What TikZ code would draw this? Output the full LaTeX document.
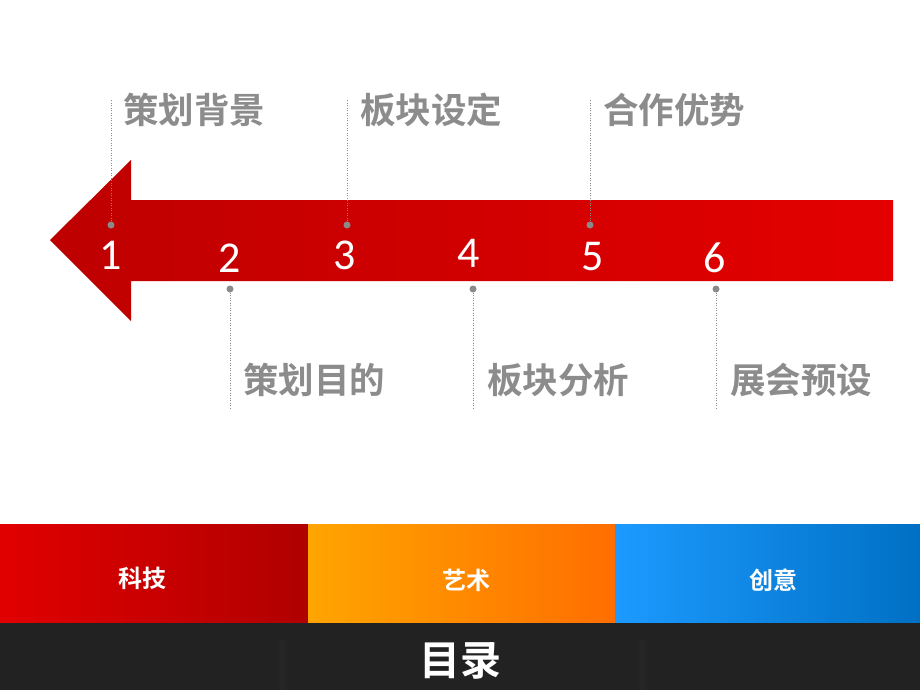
\documentclass[tikz,border=0pt]{standalone}
\usepackage{fontspec}
\setmainfont{Carlito}
\newfontfamily\cjk{Noto Sans CJK SC Bold}
\usetikzlibrary{shapes.geometric}
\definecolor{topicgray}{HTML}{8C8C8C}
\definecolor{dotgray}{HTML}{8A8A8A}
\definecolor{darkbar}{HTML}{222222}
\begin{document}
\begin{tikzpicture}[x=1pt,y=-1pt,
  topic/.style={font=\cjk\fontsize{35.5}{35.5}\selectfont, text=topicgray, anchor=west, inner sep=0pt},
  num/.style={font=\fontsize{44}{44}\selectfont, text=white, inner sep=0pt},
  dotmark/.style={circle, fill=dotgray, minimum size=7pt, inner sep=0pt},
  leader/.style={draw=dotgray, line width=0.8pt, dash pattern=on 1pt off 1.5pt},
  bandlabel/.style={font=\cjk\fontsize{24}{24}\selectfont, text=white, inner sep=0pt}]
\useasboundingbox (0,0) rectangle (920,690);
\fill[white] (0,0) rectangle (920,690);
% arrow
\shade[left color={rgb,255:red,190;green,0;blue,0}, right color={rgb,255:red,228;green,0;blue,0}]
  (50,240) -- (131,160) -- (131,200) -- (893,200) -- (893,281) -- (131,281) -- (131,321) -- cycle;
% numbers
\node[num] (n1) at (111,255) {1};
\node[num] (n2) at (230,258) {2};
\node[num] (n3) at (345,255) {3};
\node[num] (n4) at (469,253) {4};
\node[num] (n5) at (593,257) {5};
\node[num] (n6) at (715,258) {6};
% dots and leaders
\node[dotmark] (d1) at (111,225) {};
\node[dotmark] (d2) at (230,289) {};
\node[dotmark] (d3) at (347,225) {};
\node[dotmark] (d4) at (473,289) {};
\node[dotmark] (d5) at (590,225) {};
\node[dotmark] (d6) at (716,289) {};
\coordinate (e1) at (111,100);
\coordinate (e2) at (230,408);
\coordinate (e3) at (347,100);
\coordinate (e4) at (473,408);
\coordinate (e5) at (590,100);
\coordinate (e6) at (716,408);
\foreach \i in {1,...,6} {\draw[leader] (d\i) -- (e\i);}
% topics
\node[topic] (t1) at (123,110) {策划背景};
\node[topic] (t2) at (243,380) {策划目的};
\node[topic] (t3) at (360,110) {板块设定};
\node[topic] (t4) at (487,380) {板块分析};
\node[topic] (t5) at (603,110) {合作优势};
\node[topic] (t6) at (730,380) {展会预设};
% bottom bands
\shade[left color={rgb,255:red,225;green,0;blue,0}, right color={rgb,255:red,176;green,0;blue,0}] (0,524) rectangle (308,623);
\shade[left color={rgb,255:red,255;green,165;blue,0}, right color={rgb,255:red,255;green,110;blue,0}] (308,524) rectangle (615,623);
\shade[left color={rgb,255:red,28;green,154;blue,255}, right color={rgb,255:red,0;green,112;blue,196}] (615,524) rectangle (920,623);
\fill[darkbar] (0,623) rectangle (920,690);
\shade[left color=darkbar, right color=darkbar, middle color=black!85] (276,640) rectangle (288,690);
\shade[left color=darkbar, right color=darkbar, middle color=black!85] (636,640) rectangle (648,690);
\node[bandlabel] (b1) at (142,578) {科技};
\node[bandlabel] (b2) at (466,580) {艺术};
\node[bandlabel] (b3) at (773,580) {创意};
\node[font=\cjk\fontsize{41}{41}\selectfont, text=white, inner sep=0pt] (title) at (460,661) {目录};
\end{tikzpicture}
\end{document}
